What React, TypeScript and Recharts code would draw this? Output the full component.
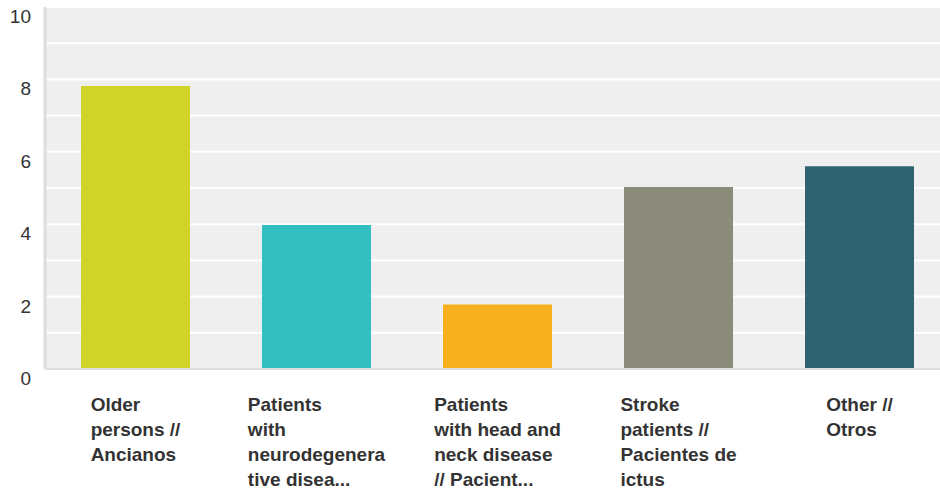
import React from 'react';
import { BarChart, Bar, XAxis, YAxis, CartesianGrid, Cell } from 'recharts';

const categories = [
  'Older\npersons //\nAncianos',
  'Patients\nwith\nneurodegenera\ntive disea...',
  'Patients\nwith head and\nneck disease\n// Pacient...',
  'Stroke\npatients //\nPacientes de\nictus',
  'Other //\nOtros',
];
const values = [7.82, 3.98, 1.78, 5.03, 5.6];
const barColors = ['#d0d428', '#33bec0', '#f7b11e', '#8a8b7a', '#2e626e'];
const yTicks = [0, 1, 2, 3, 4, 5, 6, 7, 8, 9, 10];

const data = categories.map((name, i) => ({ name, value: values[i] }));

const FONT = '"Liberation Sans", Arial, Helvetica, sans-serif';
const LABEL_SIZE = 19;

let ctx: CanvasRenderingContext2D | null = null;
function textWidth(s: string, font: string) {
  if (!ctx) ctx = document.createElement('canvas').getContext('2d');
  if (!ctx) return s.length * 10;
  ctx.font = font;
  return ctx.measureText(s).width;
}

function XTick(props: any) {
  const { x, y, payload } = props;
  const lines: string[] = String(payload.value).split('\n');
  const w = Math.max(...lines.map((l) => textWidth(l, `bold ${LABEL_SIZE}px ${FONT}`)));
  return (
    <text x={x - w / 2} y={y + 42} fill="#333" fontSize={LABEL_SIZE} fontWeight="bold" fontFamily={FONT}>
      {lines.map((l, i) => (
        <tspan key={i} x={x - w / 2} dy={i === 0 ? 0 : 25}>
          {l}
        </tspan>
      ))}
    </text>
  );
}

function YTick(props: any) {
  const { y, payload } = props;
  if (payload.value % 2 !== 0) return null;
  return (
    <text x={31} y={y + 16} textAnchor="end" fill="#333" fontSize={19} fontFamily={FONT}>
      {payload.value}
    </text>
  );
}

export default function App() {
  return (
    <div style={{ position: 'fixed', left: 0, top: 0, width: 940, height: 493, overflow: 'hidden', background: '#fff' }}>
      <BarChart width={950} height={493} data={data} margin={{ top: 7, right: 0, bottom: 0, left: 0 }}>
        <CartesianGrid fill="#efefef" stroke="#ffffff" strokeWidth={2} vertical={false} />
        <XAxis
          dataKey="name"
          height={124}
          interval={0}
          tick={<XTick />}
          tickLine={false}
          tickSize={0}
          tickMargin={0}
          axisLine={{ stroke: '#dddddd', strokeWidth: 2 }}
        />
        <YAxis
          width={45}
          domain={[0, 10]}
          ticks={yTicks}
          interval={0}
          tick={<YTick />}
          tickLine={false}
          tickSize={0}
          axisLine={{ stroke: '#dddddd', strokeWidth: 3 }}
        />
        <Bar dataKey="value" barSize={109} isAnimationActive={false}>
          {data.map((d, i) => (
            <Cell key={d.name} fill={barColors[i]} />
          ))}
        </Bar>
      </BarChart>
    </div>
  );
}
